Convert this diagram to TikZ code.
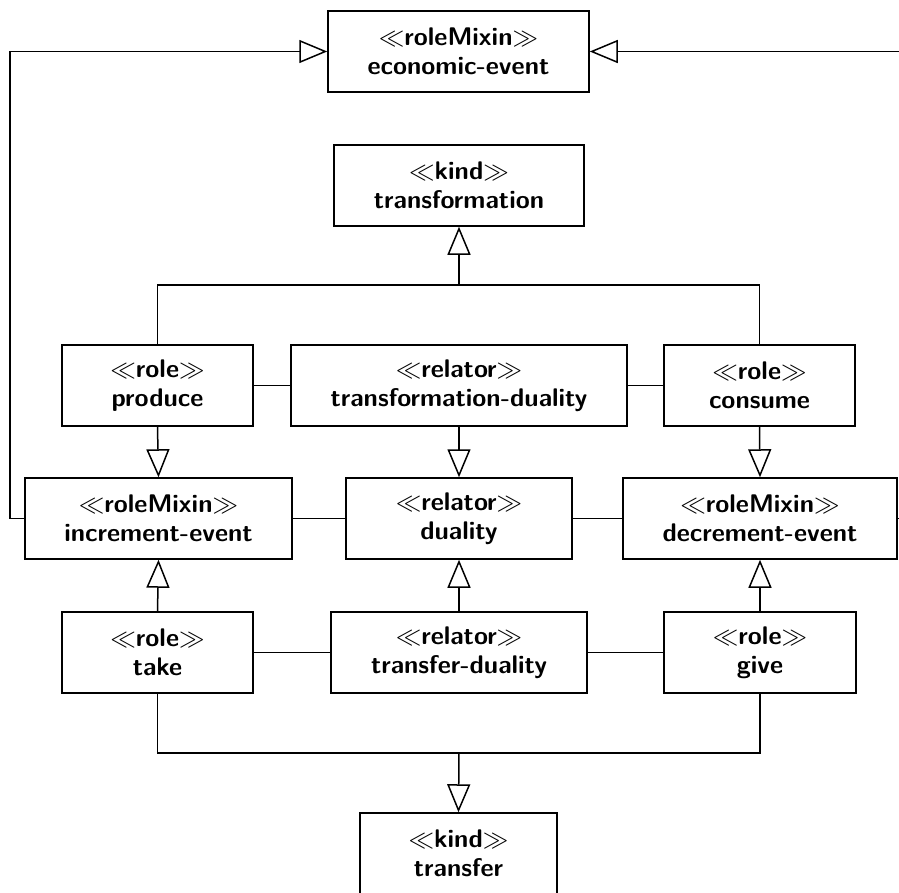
\documentclass[tikz,border=0pt]{standalone}
\usepackage{fix-cm}
\usetikzlibrary{arrows.meta}
\tikzset{
  cls/.style={draw, line width=1.5pt, minimum height=81pt, inner sep=0pt, align=center,
    font=\sffamily\bfseries\fontsize{25.5}{29}\selectfont},
  gen/.style={line width=1.5pt, -{Triangle[open, length=28pt, width=23pt, line width=1.5pt]}},
  assoc/.style={line width=1.5pt},
  plain/.style={line width=1.5pt},
}
\newcommand{\stereo}[1]{$\ll$#1$\gg$}
\begin{document}
\begin{tikzpicture}[x=1pt,y=-1pt]
\useasboundingbox (0,0) rectangle (899,892);
\clip (0,0) rectangle (899,892);
% row 0
\node[cls, minimum width=261pt] (econ) at (458.5,51.5) {\stereo{roleMixin}\\economic-event};
\node[cls, minimum width=250pt] (transformation) at (459,185.5) {\stereo{kind}\\transformation};
% row 1
\node[cls, minimum width=191pt] (produce) at (157.5,385.5) {\stereo{role}\\produce};
\node[cls, minimum width=336pt] (tduality) at (459,385.5) {\stereo{relator}\\transformation-duality};
\node[cls, minimum width=191pt] (consume) at (759.5,385.5) {\stereo{role}\\consume};
% row 2
\node[cls, minimum width=267pt] (increment) at (158.5,518.5) {\stereo{roleMixin}\\increment-event};
\node[cls, minimum width=226pt] (duality) at (459,518.5) {\stereo{relator}\\duality};
\node[cls, minimum width=274pt] (decrement) at (760,518.5) {\stereo{roleMixin}\\decrement-event};
% row 3
\node[cls, minimum width=191pt] (take) at (157.5,652.5) {\stereo{role}\\take};
\node[cls, minimum width=256pt] (trduality) at (459,652.5) {\stereo{relator}\\transfer-duality};
\node[cls, minimum width=192pt] (give) at (760,652.5) {\stereo{role}\\give};
% bottom
\node[cls, minimum width=197pt] (transfer) at (458.5,853.5) {\stereo{kind}\\transfer};

\coordinate (j1) at (459,285);
\coordinate (j2) at (459,753);
\coordinate (L) at (10,518.5);
\coordinate (R) at (920,518.5);

% generalizations to transformation
\draw[plain] (produce.north) |- (j1);
\draw[plain] (consume.north) |- (j1);
\draw[gen] (j1) -- (transformation.south);
% generalizations to transfer
\draw[plain] (take.south) |- (j2);
\draw[plain] (give.south) |- (j2);
\draw[gen] (j2) -- (transfer.north);
% vertical generalizations
\draw[gen] (produce.south) -- (increment.north);
\draw[gen] (tduality.south) -- (duality.north);
\draw[gen] (consume.south) -- (decrement.north);
\draw[gen] (take.north) -- (increment.south);
\draw[gen] (trduality.north) -- (duality.south);
\draw[gen] (give.north) -- (decrement.south);
% to economic-event
\draw[gen] (increment.west) -- (L) |- (econ.west);
\draw[gen] (decrement.east) -- (R) |- (econ.east);
% associations
\draw[assoc] (produce.east) -- (tduality.west);
\draw[assoc] (tduality.east) -- (consume.west);
\draw[assoc] (increment.east) -- (duality.west);
\draw[assoc] (duality.east) -- (decrement.west);
\draw[assoc] (take.east) -- (trduality.west);
\draw[assoc] (trduality.east) -- (give.west);
\end{tikzpicture}
\end{document}
